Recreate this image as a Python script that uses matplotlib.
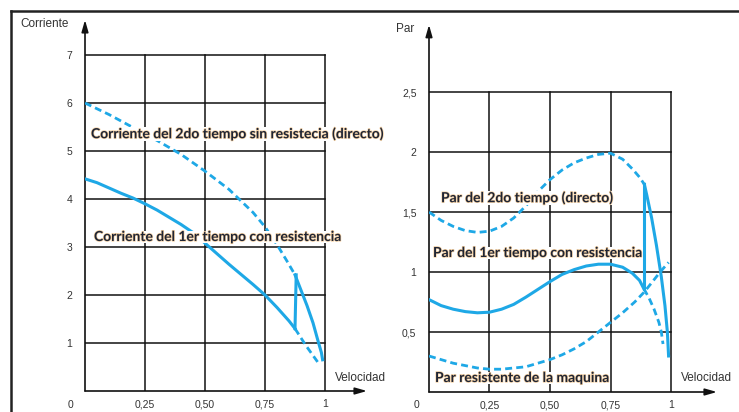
import matplotlib
matplotlib.use('Agg')
import matplotlib.pyplot as plt
import matplotlib.patheffects as pe
from matplotlib.lines import Line2D

W, H = 739, 412

# ---- data ----
# left panel: current vs speed
i2_x = [0, 0.1, 0.2, 0.3, 0.4, 0.5, 0.6, 0.7, 0.75, 0.8, 0.84, 0.875]
i2_y = [6.0, 5.76, 5.49, 5.22, 4.93, 4.58, 4.2, 3.72, 3.42, 3.05, 2.72, 2.42]
i2_tail_x = [0.875, 0.9, 0.925, 0.95, 0.97, 0.985, 0.99]
i2_tail_y = [2.42, 2.1, 1.78, 1.42, 1.06, 0.8, 0.65]
i1_x = [0, 0.05, 0.1, 0.15, 0.2, 0.25, 0.3, 0.35, 0.4, 0.45, 0.5, 0.55,
        0.6, 0.65, 0.7, 0.75, 0.8, 0.85, 0.875]
i1_y = [4.42, 4.34, 4.23, 4.12, 4.02, 3.9, 3.77, 3.62, 3.47, 3.3, 3.08, 2.86,
        2.64, 2.43, 2.22, 2.0, 1.74, 1.46, 1.3]
i1_jump_x = [0.875, 0.88]
i1_jump_y = [1.3, 2.42]
i1_rest_x = [0.875, 0.92, 0.97]
i1_rest_y = [1.3, 0.95, 0.6]

# right panel: torque vs speed
t2_x = [0, 0.05, 0.1, 0.15, 0.2, 0.25, 0.3, 0.35, 0.4, 0.45, 0.5, 0.55, 0.6,
        0.65, 0.7, 0.75, 0.8, 0.84, 0.87, 0.89]
t2_y = [1.5, 1.43, 1.38, 1.345, 1.33, 1.34, 1.38, 1.45, 1.55, 1.67, 1.77, 1.85, 1.91,
        1.95, 1.98, 1.99, 1.94, 1.86, 1.79, 1.73]
t2_tail_x = [0.89, 0.9, 0.92, 0.94, 0.96, 0.975, 0.985, 0.99]
t2_tail_y = [1.73, 1.64, 1.45, 1.22, 0.96, 0.72, 0.5, 0.3]
t1_x = [0, 0.05, 0.1, 0.15, 0.2, 0.25, 0.3, 0.35, 0.4, 0.45, 0.5, 0.55, 0.6,
        0.65, 0.7, 0.75, 0.8, 0.84, 0.87, 0.888]
t1_y = [0.77, 0.72, 0.69, 0.67, 0.66, 0.665, 0.69, 0.73, 0.79, 0.855, 0.92, 0.98, 1.02,
        1.05, 1.065, 1.065, 1.04, 0.99, 0.93, 0.86]
t1_jump_x = [0.888, 0.888]
t1_jump_y = [0.86, 1.73]
t1_rest_x = [0.888, 0.91, 0.93, 0.95, 0.96, 0.967]
t1_rest_y = [0.86, 0.78, 0.69, 0.58, 0.5, 0.4]
load_x = [0, 0.05, 0.1, 0.15, 0.2, 0.25, 0.3, 0.35, 0.4, 0.45, 0.5, 0.55, 0.6,
          0.65, 0.7, 0.75, 0.8, 0.85, 0.888, 0.92, 0.955, 0.99]
load_y = [0.3, 0.27, 0.24, 0.22, 0.2, 0.19, 0.19, 0.2, 0.21, 0.24, 0.27, 0.31, 0.36,
          0.42, 0.5, 0.58, 0.66, 0.75, 0.83, 0.91, 1.0, 1.08]

x_ticks = [0.25, 0.5, 0.75, 1]
x_labels = ['0,25', '0,50', '0,75', '1']
left_y_ticks = [1, 2, 3, 4, 5, 6, 7]
right_y_ticks = [0.5, 1, 1.5, 2, 2.5]
right_y_labels = ['0,5', '1', '1,5', '2', '2,5']

BLUE = '#1ea8e6'
TICK_FONT = 'Liberation Sans'


def fx(px):
    return px / W


def fy(py):
    return 1 - py / H


fig = plt.figure(figsize=(W / 100, H / 100), dpi=100)

# frame of the original picture
fig.add_artist(Line2D([fx(11), fx(11)], [fy(11), 0], color='#222222', lw=1.8))
fig.add_artist(Line2D([fx(11), 1], [fy(11), fy(11)], color='#222222', lw=1.8))


def make_panel(x0px, x1px, y0px, ytop_px, xunit, yunit):
    ax = fig.add_axes([fx(x0px), fy(y0px), (x1px - x0px) / W, (y0px - ytop_px) / H])
    ax.set_xlim(0, (x1px - x0px) / xunit)
    ax.set_ylim(0, (y0px - ytop_px) / yunit)
    for s in ax.spines.values():
        s.set_visible(False)
    ax.patch.set_visible(False)
    ax.tick_params(length=0)
    return ax


def draw_grid(ax, ymax, yticks, xtip, ytip):
    for x in x_ticks:
        ax.plot([x, x], [0, ymax], color='#111111', lw=1.1, zorder=1)
    for y in yticks:
        ax.plot([0, 1], [y, y], color='#111111', lw=1.1, zorder=1)
    ax.annotate('', xy=(xtip, 0), xytext=(0, 0), annotation_clip=False,
                arrowprops=dict(arrowstyle='-|>,head_length=0.7,head_width=0.2',
                                color='#111111', lw=1.2, shrinkA=0, shrinkB=0))
    ax.annotate('', xy=(0, ytip), xytext=(0, 0), annotation_clip=False,
                arrowprops=dict(arrowstyle='-|>,head_length=0.7,head_width=0.2',
                                color='#111111', lw=1.2, shrinkA=0, shrinkB=0))
    ax.set_xticks(x_ticks)
    ax.set_xticklabels(x_labels, fontsize=7.5, color='#333333', family=TICK_FONT)
    ax.tick_params(axis='x', pad=6)
    ax.tick_params(axis='y', pad=9)


# ---- left panel ----
axl = make_panel(85, 380, 391, 15, 240, 48)
draw_grid(axl, 7, left_y_ticks, 1.175, 7.73)
axl.set_yticks(left_y_ticks)
axl.set_yticklabels([str(v) for v in left_y_ticks], fontsize=7.5, color='#333333', family=TICK_FONT)

axl.plot(i2_x, i2_y, color=BLUE, lw=2, dashes=(2.5, 1.5), zorder=3)
axl.plot(i2_tail_x, i2_tail_y, color=BLUE, lw=2.2, zorder=3)
axl.plot(i1_x, i1_y, color=BLUE, lw=2.2, zorder=3)
axl.plot(i1_jump_x, i1_jump_y, color=BLUE, lw=2.2, zorder=3)
axl.plot(i1_rest_x, i1_rest_y, color=BLUE, lw=2, dashes=(2.5, 1.5), zorder=3)

# ---- right panel ----
axr = make_panel(429, 730, 392, 20, 242, 120)
draw_grid(axr, 2.5, right_y_ticks, 1.19, 3.06)
axr.set_yticks(right_y_ticks)
axr.set_yticklabels(right_y_labels, fontsize=7.5, color='#333333', family=TICK_FONT)

axr.plot(t2_x, t2_y, color=BLUE, lw=2, dashes=(2.5, 1.5), zorder=3)
axr.plot(t2_tail_x, t2_tail_y, color=BLUE, lw=2.2, zorder=3)
axr.plot(t1_x, t1_y, color=BLUE, lw=2.2, zorder=3)
axr.plot(t1_jump_x, t1_jump_y, color=BLUE, lw=2.2, zorder=3)
axr.plot(t1_rest_x, t1_rest_y, color=BLUE, lw=2, dashes=(2.5, 1.5), zorder=3)
axr.plot(load_x, load_y, color=BLUE, lw=2, dashes=(2.5, 1.5), zorder=3)

# ---- axis names and corner zeros ----
small = dict(fontsize=8.5, color='#333333', family=TICK_FONT, va='center')
fig.text(fx(20), fy(24), 'Corriente', ha='left', **small)
fig.text(fx(335), fy(378), 'Velocidad', ha='left', **small)
fig.text(fx(396), fy(29), 'Par', ha='left', **small)
fig.text(fx(681), fy(378), 'Velocidad', ha='left', **small)
fig.text(fx(70), fy(405), '0', ha='center', fontsize=7.5, color='#333333', family=TICK_FONT, va='center')
fig.text(fx(417), fy(405), '0', ha='center', fontsize=7.5, color='#333333', family=TICK_FONT, va='center')

# ---- curve annotations ----
halo = [pe.withStroke(linewidth=1.0, foreground='#f6d2a4')]
lab = dict(fontsize=10.0, fontweight='bold', family='Lato', color='#1f2535', va='center',
           ha='left', path_effects=halo, zorder=5,
           bbox=dict(facecolor='white', edgecolor='none', pad=0.3))
fig.text(fx(91), fy(134), 'Corriente del 2do tiempo sin resistecia (directo)', **lab)
fig.text(fx(94), fy(237), 'Corriente del 1er tiempo con resistencia', **lab)
fig.text(fx(441), fy(198), 'Par del 2do tiempo (directo)', **lab)
fig.text(fx(433), fy(253), 'Par del 1er tiempo con resistencia', **lab)
fig.text(fx(435), fy(378), 'Par resistente de la maquina', **lab)

fig.savefig('out.png', dpi=100)
